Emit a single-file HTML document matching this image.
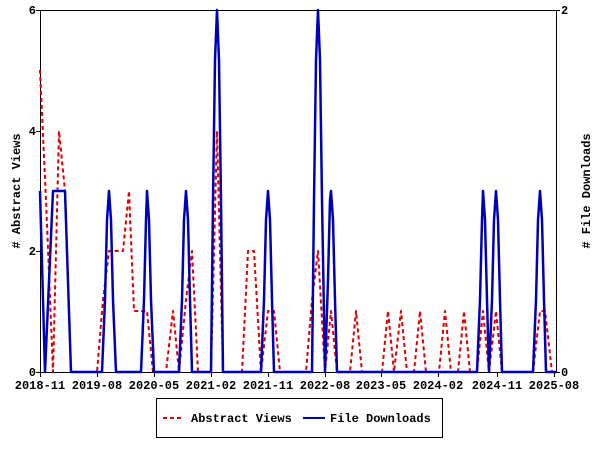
<!DOCTYPE html>
<html><head><style>body{margin:0;background:#fff}svg{display:block}text{font-family:"Liberation Mono",monospace;font-size:12px;font-weight:bold;fill:#000}</style></head><body>
<svg width="600" height="450" xmlns="http://www.w3.org/2000/svg">
<rect x="0" y="0" width="600" height="450" fill="#fff"/>
<g stroke="#000" stroke-width="1" fill="none">
<rect x="40.5" y="10.5" width="516" height="362"/>
</g>
<g stroke="#000" stroke-width="1">
<line x1="36" y1="10.5" x2="40" y2="10.5"/><line x1="36" y1="131.5" x2="40" y2="131.5"/><line x1="36" y1="251.5" x2="40" y2="251.5"/><line x1="36" y1="372.5" x2="40" y2="372.5"/>
<line x1="556" y1="10.5" x2="560" y2="10.5"/><line x1="556" y1="372.5" x2="560" y2="372.5"/>
<line x1="40.5" y1="372" x2="40.5" y2="377"/><line x1="97.5" y1="372" x2="97.5" y2="377"/><line x1="154.5" y1="372" x2="154.5" y2="377"/><line x1="211.5" y1="372" x2="211.5" y2="377"/><line x1="268.5" y1="372" x2="268.5" y2="377"/><line x1="325.5" y1="372" x2="325.5" y2="377"/><line x1="381.5" y1="372" x2="381.5" y2="377"/><line x1="438.5" y1="372" x2="438.5" y2="377"/><line x1="497.5" y1="372" x2="497.5" y2="377"/><line x1="554.5" y1="372" x2="554.5" y2="377"/>
</g>
<g text-anchor="end"><text x="36" y="14">6</text><text x="36" y="135">4</text><text x="36" y="255">2</text><text x="36" y="376">0</text></g>
<text x="561" y="14">2</text><text x="561" y="376">0</text>
<g text-anchor="middle">
<text x="40" y="389">2018-11</text><text x="97" y="389">2019-08</text><text x="154" y="389">2020-05</text><text x="211" y="389">2021-02</text><text x="268" y="389">2021-11</text><text x="325" y="389">2022-08</text><text x="381" y="389">2023-05</text><text x="438" y="389">2024-02</text><text x="497" y="389">2024-11</text><text x="554" y="389">2025-08</text>
</g>
<text transform="translate(20,191) rotate(-90)" text-anchor="middle" font-size="13">#&#160;Abstract Views</text>
<text transform="translate(590,191) rotate(-90)" text-anchor="middle" font-size="13">#&#160;File Downloads</text>
<polyline fill="none" stroke="#dd0000" stroke-width="2" stroke-dasharray="4,3" stroke-linejoin="round" points="40,70 46,200 53,372 59,131 65,191 71,372 97,372 103,300 109,251 123,251 129,191 134,311 147,311 153,372 166,372 173,311 179,372 186,300 192,251 198,372 211,372 217,131 223,372 242,372 248,251 254,251 261,372 268,311 274,311 280,372 306,372 312,300 318,251 325,372 331,311 337,372 350,372 356,311 362,372 382,372 388,311 394,372 401,311 407,372 414,372 420,311 426,372 439,372 445,311 451,372 458,372 464,311 470,372 477,372 483,311 489,372 496,311 502,372 533,372 540,311 545,311 552,372 556,372"/>
<polyline fill="none" stroke="#0000bb" stroke-width="2.5" stroke-linejoin="round" points="40,191 45,372 53,191 65,191 71,372 102,372 105,300 107,220 109,191 111,220 113,300 116,372 141,372 144,300 146,220 147,191 149,220 151,300 154,372 179,372 182,300 184,220 186,191 188,220 190,300 192,372 211,372 213,200 215,60 217,10 219,60 221,200 223,372 261,372 264,300 266,220 268,191 270,220 272,300 274,372 312,372 314,200 316,60 318,10 320,60 322,200 325,372 328,280 330,200 331,191 333,220 335,300 337,372 477,372 480,300 482,220 483,191 485,220 487,300 489,372 492,300 494,220 496,191 498,220 500,300 502,372 533,372 536,300 538,220 540,191 542,220 544,300 546,372 556,372"/>
<rect x="156.5" y="398.5" width="286" height="39" fill="none" stroke="#000"/>
<line x1="163" y1="418" x2="183" y2="418" stroke="#dd0000" stroke-width="2" stroke-dasharray="4,3"/>
<text x="191" y="422">Abstract Views</text>
<line x1="303" y1="418" x2="325" y2="418" stroke="#0000bb" stroke-width="2"/>
<text x="330" y="422">File Downloads</text>
</svg>
</body></html>
